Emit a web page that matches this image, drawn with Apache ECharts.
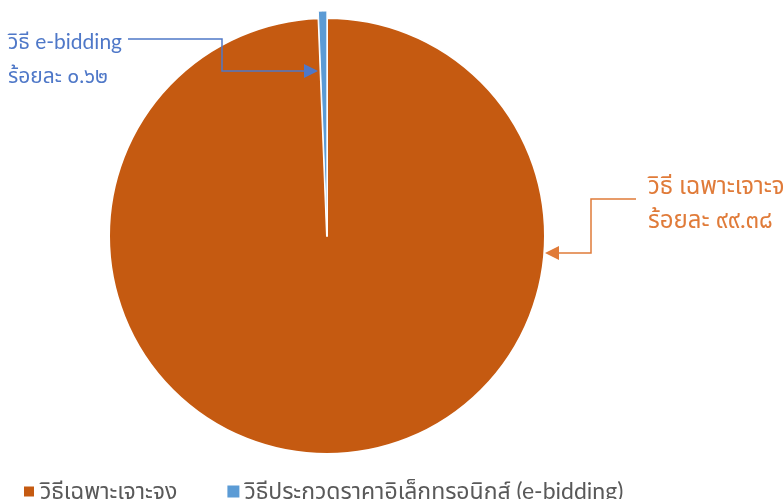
<!DOCTYPE html>
<html>
<head>
<meta charset="utf-8">
<script src="https://cdn.jsdelivr.net/npm/echarts@6/dist/echarts.min.js"></script>
<style>
  html, body { margin: 0; padding: 0; background: #fff; }
  #chart { width: 784px; height: 499px; }
</style>
</head>
<body>
<div id="chart"></div>
<script>
  const categories = ['วิธีเฉพาะเจาะจง', 'วิธีประกวดราคาอิเล็กทรอนิกส์ (e-bidding)'];
  const shortNames = ['วิธี เฉพาะเจาะจง', 'วิธี e-bidding'];
  const values = [99.38, 0.62];
  const sliceColors = ['#C55A11', '#5B9BD5'];
  const labelColors = ['#E07B39', '#4F78C8'];
  const labelSizes = [24, 21];
  const exploded = 1; // the slice pulled out of the pie

  const thaiDigits = '๐๑๒๓๔๕๖๗๘๙';
  const toThai = (n) => n.toFixed(2).replace(/\d/g, (d) => thaiDigits[d]);

  const font = 'Lato, "Noto Sans Thai", "Noto Sans", sans-serif';
  const cx = 327, cy = 236, r = 218, pull = 7;

  // where each label sits and how its leader line runs
  const labelSpots = [
    { x: 648, y: 203, line: [[636, 199], [591, 199], [591, 253], [555, 253]] },
    { x: 8, y: 59, line: [[128, 39], [222, 39], [222, 71], [306, 71]] }
  ];
  const arrowTips = [
    { tip: [545, 253], dir: -1 },
    { tip: [318, 71], dir: 1 }
  ];

  // offset of the pulled slice along its bisector
  const total = values.reduce((a, b) => a + b, 0);
  let before = 0;
  for (let i = 0; i < exploded; i++) before += values[i];
  const midDeg = 90 - (before + values[exploded] / 2) / total * 360;
  const mid = midDeg * Math.PI / 180;
  const pulledCenter = [cx + Math.cos(mid) * pull, cy - Math.sin(mid) * pull];

  const hidden = { color: 'rgba(0,0,0,0)', borderWidth: 0 };

  const chart = echarts.init(document.getElementById('chart'));
  chart.setOption({
    animation: false,
    legend: {
      bottom: -9,
      left: 17,
      itemWidth: 12,
      itemHeight: 12,
      itemGap: 50,
      icon: 'rect',
      data: categories.map((c, i) => ({ name: c, itemStyle: { color: sliceColors[i] } })),
      textStyle: { color: '#595959', fontSize: 23, fontFamily: font }
    },
    graphic: arrowTips.map((a, i) => ({
      type: 'polygon',
      shape: {
        points: [
          a.tip,
          [a.tip[0] - a.dir * 14, a.tip[1] - 7],
          [a.tip[0] - a.dir * 14, a.tip[1] + 7]
        ]
      },
      style: { fill: labelColors[i] },
      z: 100
    })),
    series: [
      {
        // the body of the pie
        type: 'pie',
        z: 2,
        center: [cx, cy],
        radius: r,
        startAngle: 90,
        clockwise: true,
        silent: true,
        label: { show: false },
        labelLine: { show: false },
        itemStyle: { borderColor: '#fff', borderWidth: 2 },
        data: categories.map((c, i) => ({
          name: c,
          value: values[i],
          itemStyle: i === exploded ? hidden : { color: sliceColors[i] }
        }))
      },
      {
        // the pulled-out slice, plus the labels on top
        type: 'pie',
        z: 4,
        center: pulledCenter,
        radius: r,
        startAngle: 90,
        clockwise: true,
        silent: true,
        itemStyle: { borderColor: '#fff', borderWidth: 1 },
        data: categories.map((c, i) => ({
          name: c,
          value: values[i],
          itemStyle: i === exploded ? { color: sliceColors[i] } : hidden,
          label: { color: labelColors[i], fontSize: labelSizes[i] },
          labelLine: { lineStyle: { color: labelColors[i] } }
        })),
        label: {
          show: true,
          formatter: (p) => shortNames[p.dataIndex] + '\nร้อยละ ' + toThai(p.value),
          lineHeight: 34,
          fontFamily: font,
          align: 'left'
        },
        labelLine: { show: true, lineStyle: { width: 1.5 } },
        labelLayout: (p) => {
          const s = labelSpots[p.dataIndex];
          return {
            x: s.x,
            y: s.y,
            align: 'left',
            verticalAlign: 'middle',
            labelLinePoints: s.line
          };
        }
      }
    ]
  });
</script>
</body>
</html>
